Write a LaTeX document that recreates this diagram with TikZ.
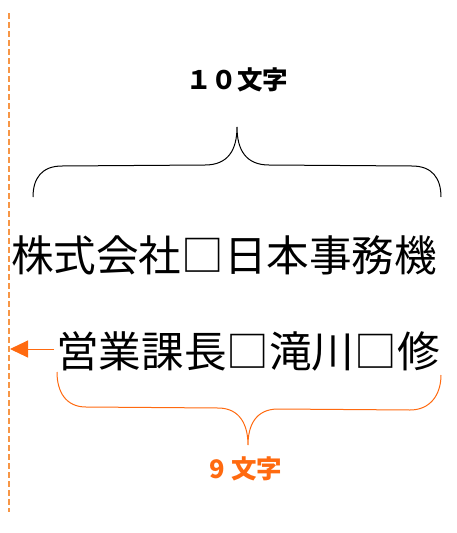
\documentclass[tikz,border=0pt]{standalone}
\usepackage{fontspec}
\newfontfamily\jp{Noto Sans CJK JP}
\usetikzlibrary{arrows.meta}
\definecolor{orA}{HTML}{FF6A10}
\definecolor{orB}{HTML}{F79646}
\tikzset{
  bigtext/.style={inner sep=0pt, font=\jp\fontsize{42.6}{42.6}\selectfont},
  lbl/.style={inner sep=0pt, font=\jp\bfseries\fontsize{25.5}{25.5}\selectfont},
  brace/.style={line width=1pt},
}
\begin{document}
\begin{tikzpicture}[x=1pt,y=-1pt]
\useasboundingbox (0,0) rectangle (457,533);
% dashed guide line
\coordinate (gtop) at (9,13);
\coordinate (gbot) at (9,512);
\draw[orB, line width=1.5pt, dash pattern=on 6pt off 3pt] (gtop) -- (gbot);
% texts
\node[lbl] (t10) at (237,80) {１０文字};
\node[bigtext, anchor=west] (l1) at (11,255) {株式会社□日本事務機};
\node[bigtext, anchor=west] (l2) at (56,351) {営業課長□滝川□修};
\node[lbl, text=orA] (t9) at (246,469) {9 文字};
% top brace
\draw[brace, black] (33,197) .. controls (33,178) and (42,166) .. (62,166)
  -- (205,165) .. controls (228,165) and (237,150) .. (237,127)
  .. controls (237,150) and (246,165) .. (269,165)
  -- (412,166) .. controls (432,166) and (441,178) .. (441,197);
% bottom brace
\draw[brace, orA] (57,372) .. controls (57,392) and (66,407) .. (86,407)
  -- (218,408) .. controls (240,408) and (248,425) .. (248,445)
  .. controls (248,425) and (256,409) .. (278,409)
  -- (410,410) .. controls (430,410) and (441,395) .. (441,375);
% arrow
\coordinate (ah) at (10,349);
\draw[orA, line width=1pt, -{Triangle[length=18pt,width=17pt]}] (l2.west |- ah) ++(-2,0) -- (ah);
\end{tikzpicture}
\end{document}
